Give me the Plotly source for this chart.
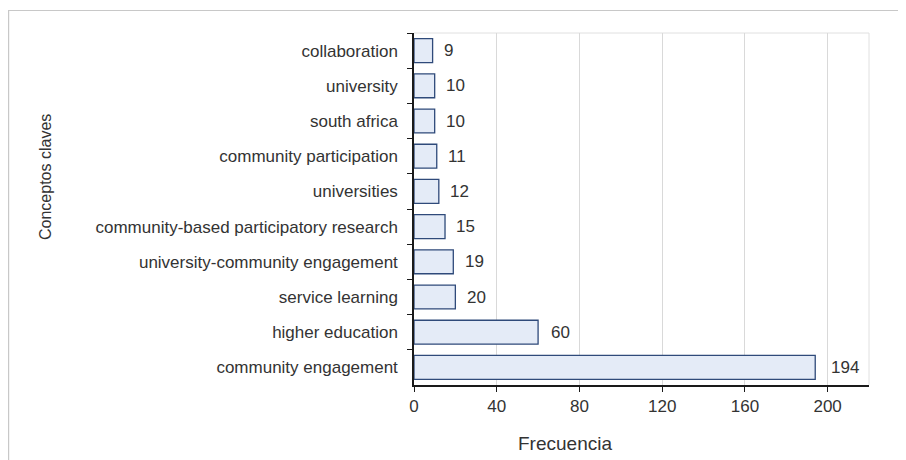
import plotly.graph_objects as go

categories = [
    "collaboration",
    "university",
    "south africa",
    "community participation",
    "universities",
    "community-based participatory research",
    "university-community engagement",
    "service learning",
    "higher education",
    "community engagement",
]
frequencies = [9, 10, 10, 11, 12, 15, 19, 20, 60, 194]
x_ticks = [0, 40, 80, 120, 160, 200]

x_title = "Frecuencia"
y_title = "Conceptos claves"

FONT = "Liberation Sans, Arial, Helvetica, sans-serif"
TEXT_COLOR = "#333333"

# The page body has an 8px default margin, so the figure is 898x452
# and all pixel positions below are in figure coordinates.
W, H = 898, 452
L, R, T, B = 406, 37, 25, 75
PW, PH = W - L - R, H - T - B


def px(xp):
    return (xp - L) / PW


def py(yp):
    return (H - B - yp) / PH


fig = go.Figure()
fig.add_trace(go.Bar(
    y=categories,
    x=frequencies,
    orientation="h",
    width=0.68,
    marker=dict(color="#E4EBF7", line=dict(color="#2F4A7A", width=1.3)),
    hoverinfo="x+y",
))

for cat, val in zip(categories, frequencies):
    fig.add_annotation(
        x=val * 1.012, y=cat, xref="x", yref="y",
        text=str(val), showarrow=False,
        xanchor="left", yanchor="middle", xshift=9,
        font=dict(family=FONT, size=17, color=TEXT_COLOR),
    )

# axis titles
fig.add_annotation(
    x=px(557), y=py(435), xref="paper", yref="paper",
    text=x_title, showarrow=False, xanchor="center", yanchor="middle",
    font=dict(family=FONT, size=19, color=TEXT_COLOR),
)
fig.add_annotation(
    x=px(37), y=py(169), xref="paper", yref="paper",
    text=y_title, showarrow=False, textangle=-90,
    xanchor="center", yanchor="middle",
    font=dict(family=FONT, size=16, color=TEXT_COLOR),
)

# light plot frame (top & right)
fig.add_shape(type="line", xref="paper", yref="paper", x0=0, x1=1, y0=1, y1=1,
              line=dict(color="#E0E0E0", width=1), layer="below")
fig.add_shape(type="line", xref="paper", yref="paper", x0=1, x1=1, y0=0, y1=1,
              line=dict(color="#E0E0E0", width=1), layer="below")

# outer page border (top & left)
fig.add_shape(type="line", xref="paper", yref="paper",
              x0=px(-3), x1=px(W), y0=py(2.5), y1=py(2.5),
              line=dict(color="#C8C8C8", width=1.2))
fig.add_shape(type="line", xref="paper", yref="paper",
              x0=px(0.6), x1=px(0.6), y0=py(2.5), y1=py(H + 5),
              line=dict(color="#C8C8C8", width=1.2))

fig.update_layout(
    width=W, height=H,
    margin=dict(l=L, r=R, t=T, b=B, pad=0),
    paper_bgcolor="white", plot_bgcolor="white",
    showlegend=False,
    font=dict(family=FONT, size=17, color=TEXT_COLOR),
    xaxis=dict(
        range=[0, 220],
        tickvals=x_ticks,
        ticktext=[str(t) for t in x_ticks],
        showgrid=True, gridcolor="#D9D9D9", gridwidth=1,
        showline=True, linecolor="#1A1A1A", linewidth=2,
        ticks="outside", ticklen=5, tickcolor="#1A1A1A", tickwidth=1.3,
        zeroline=False,
        tickfont=dict(family=FONT, size=17, color=TEXT_COLOR),
    ),
    yaxis=dict(
        autorange="reversed",
        showgrid=False,
        showline=True, linecolor="#1A1A1A", linewidth=1.5,
        ticks="outside", ticklen=5, tickcolor="#1A1A1A", tickwidth=1.3,
        tickson="boundaries",
        ticklabelstandoff=11,
        tickfont=dict(family=FONT, size=17, color=TEXT_COLOR),
    ),
)

fig.write_html("out.html")
